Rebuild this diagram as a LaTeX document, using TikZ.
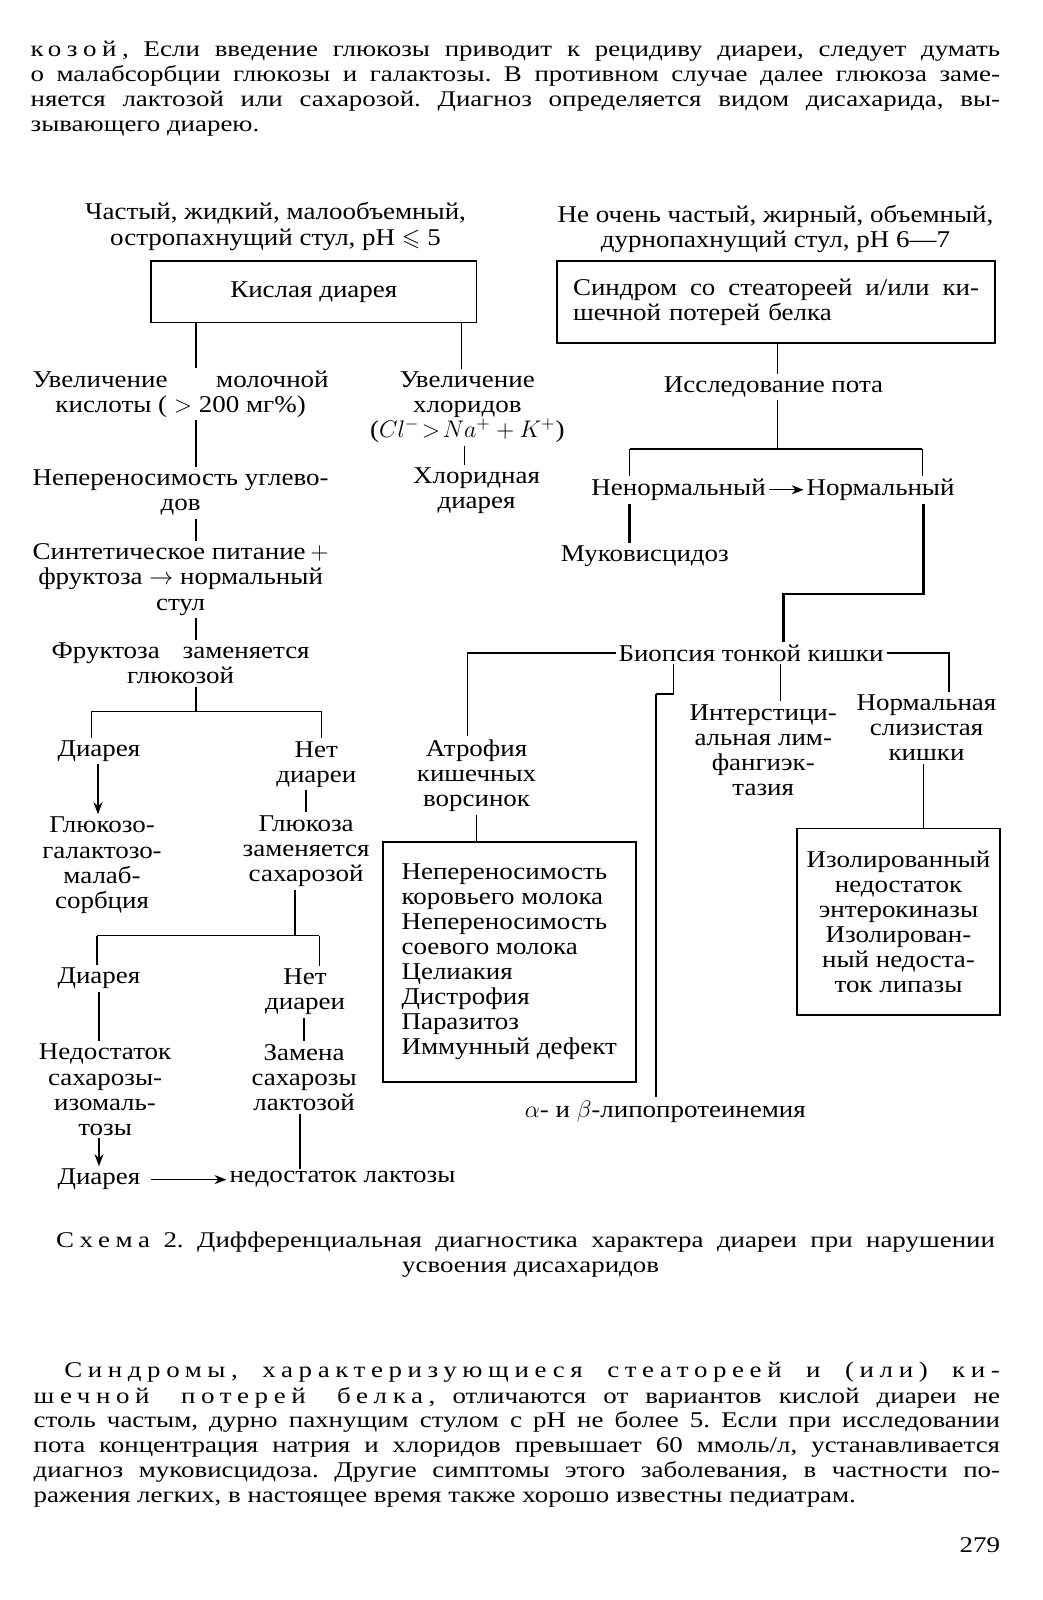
\documentclass[tikz,border=0pt]{standalone}
\usepackage{amssymb}
\usepackage{fontspec}
\setmainfont{Liberation Serif}
\newfontfamily\diagfam[FakeStretch=1.12]{Liberation Serif}
\newfontfamily\bodyfam[FakeStretch=1.2]{Liberation Serif}
\newfontfamily\bsp[FakeStretch=1.2,LetterSpace=25]{Liberation Serif}
\newcommand\dt{\diagfam\fontsize{12.04}{12.55}\selectfont}
\newcommand\bt{\bodyfam\fontsize{11.22}{12.24}\selectfont}
\usetikzlibrary{arrows.meta}
\frenchspacing
\begin{document}
\begin{tikzpicture}[x=0.5102pt,y=-0.5102pt,
  ln/.style={line width=0.65pt},
  tk/.style={line width=1.2pt},
  lb/.style={inner sep=1.5pt, outer sep=0pt, font=\dt, align=center},
  bx/.style={draw, line width=0.9pt, inner sep=0pt, outer sep=0pt, font=\dt},
  arr/.style={line width=0.65pt, -{Stealth[length=6pt,width=4.5pt]}},
  bt/.style={inner sep=0pt, outer sep=0pt, anchor=base west, font=\bt}]
\useasboundingbox (0,0) rectangle (1021.2,1568);
\fill[white] (0,0) rectangle (1021.2,1568);

% ---------- top paragraph ----------
\node[bt] (p1) at (30,55) {\hbox to 484.7pt{{\bsp козой,} Если введение глюкозы приводит к рецидиву диареи, следует думать}};
\node[bt] (p2) at (30,80) {\hbox to 484.7pt{о малабсорбции глюкозы и галактозы. В противном случае далее глюкоза заме-}};
\node[bt] (p3) at (30,104) {\hbox to 484.7pt{няется лактозой или сахарозой. Диагноз определяется видом дисахарида, вы-}};
\node[bt] (p4) at (30,129) {зывающего диарею.};

% ---------- left branch ----------
\node[lb] (hL) at (270,222) {Частый, жидкий, малообъемный,\\остропахнущий стул, pH $\leqslant$ 5};
\node[bx, minimum width=162.7pt, minimum height=30.6pt] (kd) at (307.5,286) {Кислая диарея};
\node[lb] (uvM) at (177,386) {\hbox to 148pt{Увеличение\hfill молочной}\\кислоты ( $>$ 200 мг\%)};
\node[lb] (uvH) at (458,399) {Увеличение\\хлоридов\\($Cl^{-}\!>\!Na^{+}+K^{+}$)};
\node[lb] (hx) at (467,481) {Хлоридная\\диарея};
\node[lb] (neu) at (177,483) {\hbox to 148pt{Непереносимость\hfill углево-}\\дов};
\node[lb] (syn) at (177,568) {\hbox to 148pt{Синтетическое питание\hfill$+$}\\фруктоза $\rightarrow$ нормальный\\стул};
\node[lb] (fz) at (177,650) {\hbox to 129pt{Фруктоза\hfill заменяется}\\глюкозой};
\node[lb] (d1) at (97,736) {Диарея};
\node[lb] (n1) at (310,749) {Нет\\диареи};
\node[lb] (g1) at (100,848) {Глюкозо-\\галактозо-\\малаб-\\сорбция};
\node[lb] (g2) at (300,834) {Глюкоза\\заменяется\\сахарозой};
\node[lb] (d2) at (97,959) {Диарея};
\node[lb] (n2) at (299,972) {Нет\\диареи};
\node[lb] (ned) at (103,1068) {Недостаток\\сахарозы-\\изомаль-\\тозы};
\node[lb] (zam) at (298,1056) {Замена\\сахарозы\\лактозой};
\node[lb] (d3) at (97,1156) {Диарея};
\node[lb, anchor=west] (nl) at (222,1156) {недостаток лактозы};

\coordinate (f1c) at (192,697);
\coordinate (f1L) at (90,697);
\coordinate (f1R) at (315,697);
\coordinate (f2c) at (289,917);
\coordinate (f2L) at (95,917);
\coordinate (f2R) at (313,917);

\draw[ln] (kd.south -| 192,0) -- (uvM.north -| 192,0);
\draw[ln] (kd.south -| 452,0) -- (uvH.north -| 452,0);
\draw[ln] (uvH.south -| 455,0) -- (hx.north -| 455,0);
\draw[ln] (uvM.south -| 192,0) -- (neu.north -| 192,0);
\draw[ln] (neu.south -| 192,0) -- (syn.north -| 192,0);
\draw[ln] (syn.south -| 192,0) -- (fz.north -| 192,0);
\draw[ln] (fz.south -| 192,0) -- (f1c);
\draw[ln] (f1L) -- (f1R);
\draw[ln] (f1L) -- (d1.north -| f1L);
\draw[ln] (f1R) -- (n1.north -| f1R);
\draw[arr] (d1.south -| 96,0) -- (g1.north -| 96,0);
\draw[ln] (n1.south -| 300,0) -- (g2.north -| 300,0);
\draw[tk] (g2.south -| f2c) -- (f2c);
\draw[ln] (f2L) -- (f2R);
\draw[ln] (f2L) -- (d2.north -| f2L);
\draw[ln] (f2R) -- (n2.north -| f2R);
\draw[ln] (d2.south -| 97,0) -- (ned.north -| 97,0);
\draw[ln] (n2.south -| 298,0) -- (zam.north -| 298,0);
\draw[arr] (ned.south -| 97,0) -- (d3.north -| 97,0);
\draw[arr] ([xshift=4pt]d3.east) -- (nl.west);
\draw[ln] (zam.south -| 294,0) -- (nl.north -| 294,0);

% ---------- right branch ----------
\node[lb] (hR) at (760,224) {Не очень частый, жирный, объемный,\\дурнопахнущий стул, pH 6—7};
\node[bx, minimum width=218.9pt, minimum height=40.8pt, text width=203pt, align=left] (sb) at (760.5,296)
  {\hbox to 203pt{Синдром\hfill со\hfill стеатореей\hfill и/или\hfill ки-}\\шечной потерей белка};
\node[lb] (ip) at (758,379) {Исследование пота};
\node[lb] (nn) at (665,480) {Ненормальный};
\node[lb] (nm) at (863,480) {Нормальный};
\node[lb] (muk) at (632,545) {Муковисцидоз};
\node[lb] (bio) at (736,640) {Биопсия тонкой кишки};
\node[lb] (atr) at (467,760) {Атрофия\\кишечных\\ворсинок};
\node[lb] (inter) at (748,735) {Интерстици-\\альная лим-\\фангиэк-\\тазия};
\node[lb] (norm) at (908,713) {Нормальная\\слизистая\\кишки};
\node[bx, minimum width=126.5pt, minimum height=119.9pt, align=left] (box1) at (499,942.5)
  {Непереносимость\\коровьего молока\\Непереносимость\\соевого молока\\Целиакия\\Дистрофия\\Паразитоз\\Иммунный дефект};
\node[bx, minimum width=101.5pt, minimum height=93.4pt, align=center] (box2) at (880.5,903.5)
  {Изолированный\\недостаток\\энтерокиназы\\Изолирован-\\ный недоста-\\ток липазы};
\node[lb] (alpha) at (652,1089) {$\alpha$- и $\beta$-липопротеинемия};

\coordinate (f3c) at (762,440);
\coordinate (f3L) at (617,440);
\coordinate (f3R) at (904,440);
\coordinate (r1) at (905,582);
\coordinate (r2) at (768,582);
\coordinate (b1) at (458,640);
\coordinate (b2) at (930,640);
\coordinate (b3) at (660,680);
\coordinate (b4) at (643,680);

\draw[ln] (sb.south -| 762,0) -- (ip.north -| 762,0);
\draw[ln] (ip.south -| f3c) -- (f3c);
\draw[ln] (f3L) -- (f3R);
\draw[ln] (f3L) -- (nn.north -| f3L);
\draw[ln] (f3R) -- (nm.north -| f3R);
\draw[arr] (nn.east) -- (nm.west);
\draw[tk] (nn.south -| f3L) -- (muk.north -| f3L);
\draw[tk] (nm.south -| r1) -- (r1) -- (r2) -- (bio.north -| r2);
\draw[ln] (bio.west) -- (b1) -- (atr.north -| b1);
\draw[ln] (bio.east) -- (b2) -- (norm.north -| b2);
\draw[ln] (bio.south -| 765,0) -- (inter.north -| 765,0);
\draw[ln] (bio.south -| b3) -- (b3) -- (b4);
\draw[tk] (b4) -- (alpha.north -| b4);
\draw[ln] (atr.south -| 467,0) -- (box1.north -| 467,0);
\draw[ln] (norm.south -| 905,0) -- (box2.north -| 905,0);

% ---------- caption ----------
\node[bt] (c1) at (55,1223) {\hbox to 469.4pt{{\bsp Схема} 2. Дифференциальная диагностика характера диареи при нарушении}};
\node[bt, anchor=base] (c2) at (520,1247) {усвоения дисахаридов};

% ---------- bottom paragraph ----------
\node[bt] (q1) at (63,1350) {\hbox to 467.8pt{\bsp Синдромы, характеризующиеся стеатореей и (или) ки-}};
\node[bt] (q2) at (33,1375) {\hbox to 483.2pt{{\bsp шечной потерей белка,} отличаются от вариантов кислой диареи не}};
\node[bt] (q3) at (33,1399) {\hbox to 483.2pt{столь частым, дурно пахнущим стулом с pH не более 5. Если при исследовании}};
\node[bt] (q4) at (33,1423) {\hbox to 483.2pt{пота концентрация натрия и хлоридов превышает 60 ммоль/л, устанавливается}};
\node[bt] (q5) at (33,1448) {\hbox to 483.2pt{диагноз муковисцидоза. Другие симптомы этого заболевания, в частности по-}};
\node[bt] (q6) at (33,1472) {ражения легких, в настоящее время также хорошо известны педиатрам.};
\node[bt, anchor=base east] (pg) at (980,1521) {279};
\end{tikzpicture}
\end{document}
